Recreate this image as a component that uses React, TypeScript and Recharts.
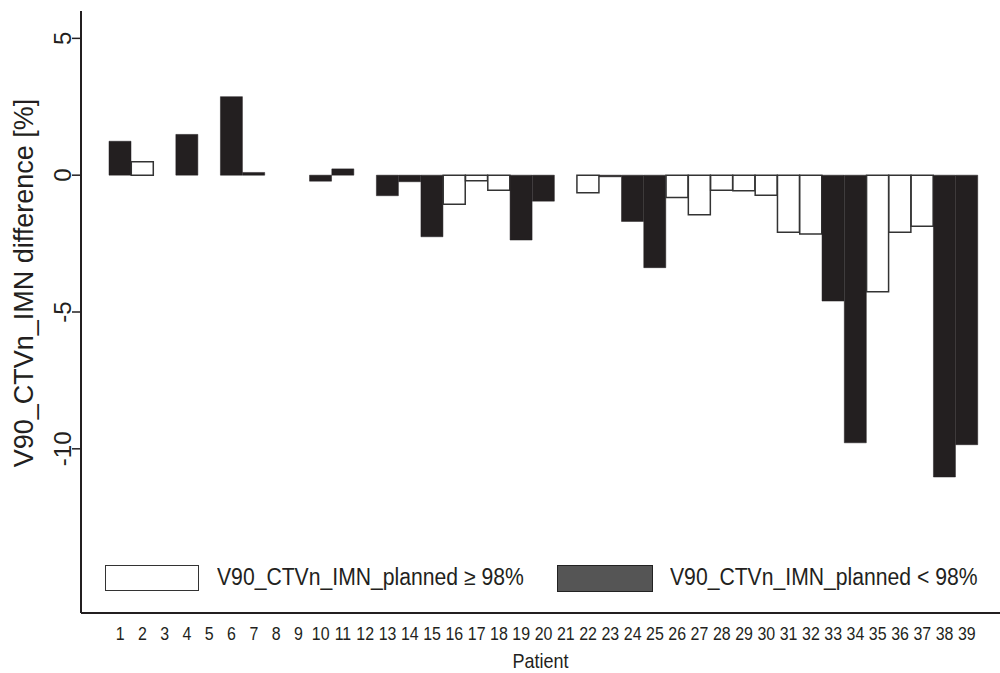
import React from 'react';
import { BarChart, Bar, XAxis, YAxis, Cell, Legend, Label } from 'recharts';

const patients: string[] = Array.from({ length: 39 }, (_, i) => String(i + 1));
const differences: number[] = [
  1.24, 0.49, 0, 1.49, 0, 2.87, 0.1, 0, 0, -0.22,
  0.23, 0, -0.75, -0.24, -2.25, -1.06, -0.2, -0.55, -2.37, -0.95,
  0, -0.64, -0.06, -1.69, -3.38, -0.82, -1.45, -0.55, -0.57, -0.73,
  -2.09, -2.15, -4.6, -9.78, -4.26, -2.09, -1.87, -11.03, -9.85,
];
// 1 = planned >= 98% (white), 0 = planned < 98% (black)
const plannedHigh: number[] = [
  0, 1, 1, 0, 1, 0, 0, 1, 1, 0,
  0, 1, 0, 0, 0, 1, 1, 1, 0, 0,
  1, 1, 0, 0, 0, 1, 1, 1, 1, 1,
  1, 1, 0, 0, 1, 1, 1, 0, 0,
];
const groupLabels: string[] = ['V90_CTVn_IMN_planned \u2265 98%', 'V90_CTVn_IMN_planned < 98%'];
const yTicks: number[] = [5, 0, -5, -10];

const data = patients.map((p, i) => ({ patient: p, value: differences[i], high: plannedHigh[i] }));

const FONT = '"Liberation Sans", Arial, sans-serif';
const INK = '#231f20';

const YTick = (props: any) => {
  const { y, payload } = props;
  return (
    <g transform={`translate(71,${y}) rotate(-90)`}>
      <text x={0} y={0} textAnchor="middle" fontSize={24} fontFamily={FONT} fill={INK}>
        {payload.value}
      </text>
    </g>
  );
};

const XTick = (props: any) => {
  const { x, y, payload } = props;
  return (
    <g transform={`translate(${x},${y + 19}) scale(0.84,1)`}>
      <text x={0} y={0} textAnchor="middle" fontSize={19} fontFamily={FONT} fill={INK}>
        {payload.value}
      </text>
    </g>
  );
};

const textStyle: React.CSSProperties = {
  position: 'absolute',
  top: -2,
  fontSize: 23,
  lineHeight: '28px',
  whiteSpace: 'nowrap',
  transform: 'scaleX(0.92)',
  transformOrigin: '0 0',
};

const LegendContent = () => (
  <div style={{ position: 'relative', width: 1000, height: 40, fontFamily: FONT, color: INK }}>
    <div style={{ position: 'absolute', left: 105, top: 0, width: 92, height: 24, background: '#fff', border: '1.5px solid #333' }} />
    <div style={{ ...textStyle, left: 217 }}>{groupLabels[0]}</div>
    <div style={{ position: 'absolute', left: 557, top: 0, width: 94, height: 25, background: '#555', border: '1.5px solid #222' }} />
    <div style={{ ...textStyle, left: 670 }}>{groupLabels[1]}</div>
  </div>
);

export default function App() {
  return (
    <div style={{ position: 'absolute', left: 0, top: 0, width: 1000, height: 673, background: '#fff' }}>
      <BarChart
        width={1000}
        height={673}
        data={data}
        margin={{ top: 11, right: 0, bottom: 0, left: 0 }}
        barCategoryGap={0}
      >
        <XAxis
          dataKey="patient"
          interval={0}
          height={60}
          padding={{ left: 28, right: 22 }}
          tickLine={false}
          axisLine={{ stroke: INK, strokeWidth: 2 }}
          tick={<XTick />}
        >
          <Label
            content={(props: any) => {
              const vb = props.viewBox;
              const cx = vb.x + vb.width / 2;
              return (
                <g transform={`translate(${cx},668) scale(0.9,1)`}>
                  <text x={0} y={0} textAnchor="middle" fontSize={20} fontFamily={FONT} fill={INK}>
                    Patient
                  </text>
                </g>
              );
            }}
          />
        </XAxis>
        <YAxis
          domain={[-16, 6]}
          ticks={yTicks}
          width={81}
          tickSize={9}
          tickLine={{ stroke: INK, strokeWidth: 1.5 }}
          axisLine={{ stroke: INK, strokeWidth: 2 }}
          tick={<YTick />}
          allowDataOverflow
        >
          <Label
            content={() => (
              <text
                x={0}
                y={0}
                transform="translate(33,283) rotate(-90)"
                textAnchor="middle"
                fontSize={27}
                fontFamily={FONT}
                fill={INK}
              >
                V90_CTVn_IMN difference [%]
              </text>
            )}
          />
        </YAxis>
        <Legend
          layout="horizontal"
          verticalAlign="middle"
          align="center"
          content={<LegendContent />}
          wrapperStyle={{ position: 'absolute', left: 0, top: 565, width: 1000, height: 40 }}
        />
        <Bar dataKey="value" isAnimationActive={false}>
          {data.map((d, i) => (
            <Cell
              key={i}
              fill={d.high ? '#ffffff' : INK}
              stroke={d.high ? '#333333' : INK}
              strokeWidth={d.high ? 1.5 : 0.5}
            />
          ))}
        </Bar>
      </BarChart>
    </div>
  );
}
